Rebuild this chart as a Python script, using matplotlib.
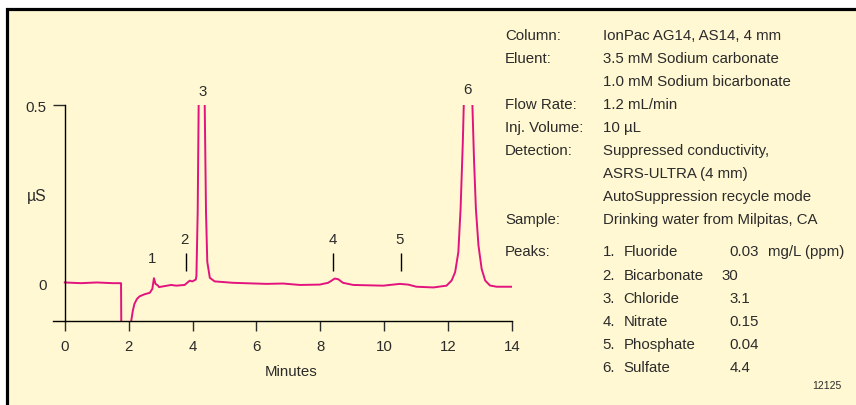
import matplotlib
matplotlib.use("Agg")
import matplotlib.pyplot as plt
from matplotlib import font_manager
from matplotlib.patches import Rectangle

# chromatogram trace (minutes, uS)
time = [0.0, 0.5, 1.0, 1.5, 1.76, 1.78, 2.0, 2.06, 2.08, 2.13, 2.18, 2.26, 2.34,
        2.50, 2.66, 2.74, 2.79, 2.84, 2.92, 2.95, 3.33, 3.49, 3.75, 3.91, 3.99,
        4.10, 4.12, 4.16, 4.19, 4.28, 4.38, 4.42, 4.46, 4.54, 4.69, 5.27, 6.31,
        6.83, 7.36, 7.98, 8.24, 8.35, 8.45, 8.56, 8.71, 9.03, 9.97, 10.28, 10.49,
        10.75, 11.01, 11.54, 11.95, 12.11, 12.22, 12.32, 12.39, 12.46, 12.49,
        12.62, 12.76, 12.81, 12.87, 12.95, 13.05, 13.16, 13.31, 13.52, 14.0]
signal = [0.002, 0.000, 0.002, 0.000, 0.000, -0.30, -0.30, -0.15, -0.105, -0.077,
          -0.058, -0.044, -0.037, -0.031, -0.027, -0.016, 0.014, -0.002, -0.007,
          -0.011, -0.005, -0.007, -0.005, 0.007, 0.005, 0.010, 0.02, 0.20, 0.50,
          1.50, 0.50, 0.20, 0.06, 0.015, 0.005, 0.001, -0.002, -0.001, -0.005,
          -0.004, 0.001, 0.007, 0.013, 0.011, 0.001, -0.005, -0.007, -0.004,
          -0.002, -0.004, -0.010, -0.012, -0.007, 0.0075, 0.031, 0.087, 0.208,
          0.395, 0.50, 1.00, 0.50, 0.349, 0.208, 0.106, 0.040, 0.0075, -0.0065,
          -0.010, -0.010]

peak_ids = ["1", "2", "3", "4", "5", "6"]
peak_lab_x = [2.74, 3.73, 4.30, 8.38, 10.49, 12.61]
peak_lab_y = [0.071, 0.124, 0.540, 0.124, 0.124, 0.545]
marker_x = [3.80, 8.40, 10.51]
marker_lo = 0.034
marker_hi = 0.085

xticks = [0, 2, 4, 6, 8, 10, 12, 14]
yticks = [0, 0.5]
ytick_labels = ["0", "0.5"]

info_keys = ["Column:", "Eluent:", "", "Flow Rate:", "Inj. Volume:", "Detection:",
             "", "", "Sample:"]
info_vals = ["IonPac AG14, AS14, 4 mm", "3.5 mM Sodium carbonate",
             "1.0 mM Sodium bicarbonate", "1.2 mL/min", "10 \u00b5L",
             "Suppressed conductivity,", "ASRS-ULTRA (4 mm)",
             "AutoSuppression recycle mode", "Drinking water from Milpitas, CA"]
info_rows_y = [36, 59.3, 82.3, 105, 127.7, 151, 174, 196.7, 220]

peak_names = ["Fluoride", "Bicarbonate", "Chloride", "Nitrate", "Phosphate", "Sulfate"]
peak_conc = ["0.03", "30", "3.1", "0.15", "0.04", "4.4"]
peak_conc_x = [729.3, 721.7, 729.3, 729.3, 729.3, 729.3]
peak_rows_y = [252.3, 276, 299, 321.7, 345, 368.3]

names = {f.name for f in font_manager.fontManager.ttflist}
font = "Liberation Sans Narrow" if "Liberation Sans Narrow" in names else "Liberation Sans"
narrow = font == "Liberation Sans Narrow"
plt.rcParams["font.family"] = [font, "DejaVu Sans"]
fs = 11.5 if narrow else 10.8

bg = "#FFF8D2"
trace_col = "#E2137E"
txt = "#2b2b2b"
W, H = 856, 406

fig = plt.figure(figsize=(W / 100, H / 100), dpi=100, facecolor="white")

def fx(px):
    return px / W

def fy(py):
    return 1 - py / H

# framed panel (right and bottom edges run off the picture)
fig.add_artist(Rectangle((fx(7), -0.1), 1.1, fy(9.5) + 0.1, transform=fig.transFigure,
                         facecolor=bg, edgecolor="black", linewidth=2.3, zorder=0))

ax = fig.add_axes([fx(53), fy(322.3), fx(512) - fx(53), fy(106) - fy(322.3)])
ax.set_facecolor("none")
ax.plot(time, signal, color=trace_col, linewidth=1.4, solid_joinstyle="round")
ax.set_xlim(-0.37, 14)
ax.set_ylim(-0.107, 0.5)

for s in ["top", "right"]:
    ax.spines[s].set_visible(False)
ax.spines["left"].set_position(("data", 0))
ax.spines["left"].set_bounds(-0.107, 0.5)
ax.spines["left"].set_linewidth(1.0)
ax.spines["bottom"].set_linewidth(1.0)

ax.set_xticks(xticks)
ax.set_xticklabels([str(t) for t in xticks])
ax.set_yticks(yticks)
ax.set_yticklabels(ytick_labels)
ax.tick_params(axis="x", direction="out", length=7, width=1.0, pad=6,
               labelsize=fs, colors=txt)
ax.tick_params(axis="y", direction="out", length=8.6, width=1.0, pad=4.5,
               labelsize=fs, colors=txt)
ax.yaxis.get_major_ticks()[0].tick1line.set_visible(False)
for t in ax.get_xticklines() + ax.get_yticklines():
    t.set_color("black")

for lab, x, y in zip(peak_ids, peak_lab_x, peak_lab_y):
    ax.text(x, y, lab, ha="center", va="center", fontsize=fs, color=txt, clip_on=False)
ax.vlines(marker_x, marker_lo, marker_hi, color="black", linewidth=1.0)

fig.text(fx(37), fy(197), "\u00b5S", ha="center", va="center", fontsize=fs + 0.5, color=txt)
fig.text(fx(291), fy(372), "Minutes", ha="center", va="center", fontsize=fs, color=txt)

for k, v, y in zip(info_keys, info_vals, info_rows_y):
    if k:
        fig.text(fx(505), fy(y), k, ha="left", va="center", fontsize=fs, color=txt)
    fig.text(fx(602.7), fy(y), v, ha="left", va="center", fontsize=fs, color=txt)

fig.text(fx(505), fy(peak_rows_y[0]), "Peaks:", ha="left", va="center", fontsize=fs, color=txt)
for i, (n, c, cx, y) in enumerate(zip(peak_names, peak_conc, peak_conc_x, peak_rows_y)):
    fig.text(fx(602.7), fy(y), f"{i + 1}.", ha="left", va="center", fontsize=fs, color=txt)
    fig.text(fx(623.3), fy(y), n, ha="left", va="center", fontsize=fs, color=txt)
    fig.text(fx(cx), fy(y), c, ha="left", va="center", fontsize=fs, color=txt)
fig.text(fx(768.3), fy(peak_rows_y[0]), "mg/L (ppm)", ha="left", va="center",
         fontsize=fs, color=txt)
fig.text(fx(841.7), fy(385.7), "12125", ha="right", va="center", fontsize=7.5, color=txt)

fig.savefig("out.png", dpi=100, facecolor="white")
